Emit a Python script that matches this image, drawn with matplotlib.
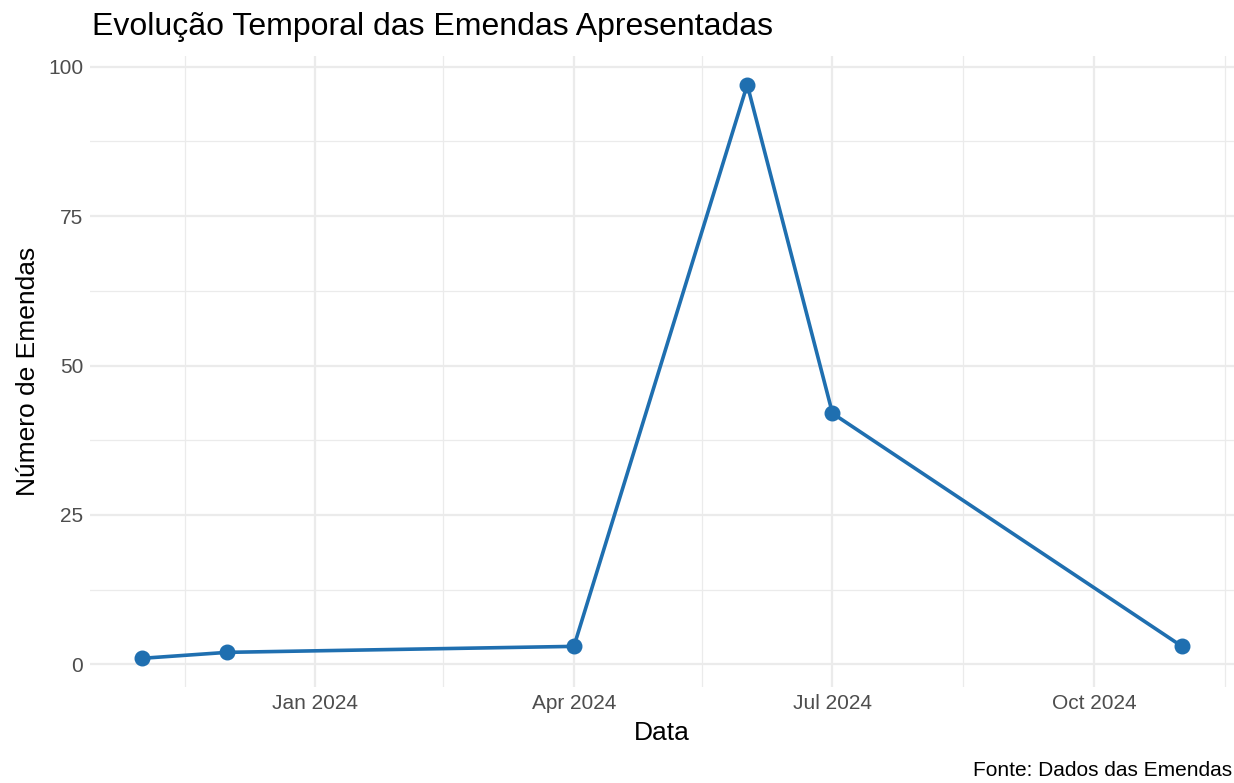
import numpy as np
import pandas as pd
import matplotlib
matplotlib.use("Agg")
import matplotlib.pyplot as plt
import matplotlib.dates as mdates

# dados
datas = ["2023-11-01", "2023-12-01", "2024-04-01", "2024-06-01", "2024-07-01", "2024-11-01"]
emendas = [1, 2, 3, 97, 42, 3]
ticks_maiores = ["2024-01-01", "2024-04-01", "2024-07-01", "2024-10-01"]
ticks_labels = ["Jan 2024", "Apr 2024", "Jul 2024", "Oct 2024"]
ticks_menores = ["2023-11-16", "2024-02-15", "2024-05-16", "2024-08-16", "2024-11-16"]
y_ticks = [0, 25, 50, 75, 100]

plt.rcParams['font.family'] = ['Liberation Sans', 'DejaVu Sans']

x = pd.to_datetime(datas)
fig = plt.figure(figsize=(12.34, 7.83), dpi=100)
ax = fig.add_axes([90/1234, 96/783, 1144/1234, 631/783])

ax.plot(x, emendas, color="#1f6fb0", lw=2.6, zorder=3)
ax.scatter(x, emendas, color="#1f6fb0", s=110, zorder=4)

xn = mdates.date2num(x)
span = xn.max() - xn.min()
ax.set_xlim(xn.min() - 0.05*span, xn.max() + 0.05*span)
yr = max(emendas) - min(emendas)
ax.set_ylim(min(emendas) - 0.05*yr, max(emendas) + 0.05*yr)

ax.set_xticks(pd.to_datetime(ticks_maiores))
ax.set_xticklabels(ticks_labels)
ax.set_xticks(pd.to_datetime(ticks_menores), minor=True)
ax.set_yticks(y_ticks)
ax.set_yticks([12.5, 37.5, 62.5, 87.5], minor=True)

ax.grid(True, which="major", color="#ebebeb", lw=1.6, zorder=0)
ax.grid(True, which="minor", color="#ebebeb", lw=0.9, zorder=0)
for s in ax.spines.values():
    s.set_visible(False)
ax.tick_params(which="both", length=0, labelsize=15, labelcolor="#4d4d4d", pad=5)

ax.set_xlabel("Data", fontsize=19, labelpad=6)
ax.set_ylabel("Número de Emendas", fontsize=19, labelpad=6)
fig.text(92/1234, 1 - 27/783, "Evolução Temporal das Emendas Apresentadas", fontsize=23, va="center", ha="left")
fig.text(1232/1234, 1 - 771/783, "Fonte: Dados das Emendas", fontsize=15, va="center", ha="right")

fig.savefig("out.png", dpi=100)
